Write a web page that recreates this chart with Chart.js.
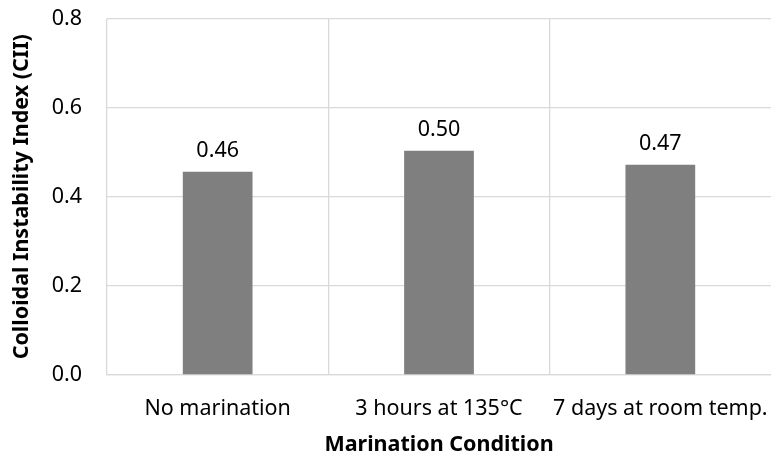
<!DOCTYPE html>
<html>
<head>
<meta charset="utf-8">
<script src="https://cdn.jsdelivr.net/npm/chart.js@4.4.1/dist/chart.umd.min.js"></script>
<style>
  html, body { margin: 0; padding: 0; background: #fff; }
  #wrap { width: 771px; height: 455px; }
</style>
</head>
<body>
<div id="wrap"><canvas id="grafico" width="771" height="455"></canvas></div>
<script>
// dati
const condizioni = ["No marination", "3 hours at 135°C", "7 days at room temp."];
const valoriCII = [0.456, 0.503, 0.472];
const tickY = [0, 0.2, 0.4, 0.6, 0.8];

const fontBase = "'Noto Sans', 'Open Sans', sans-serif";
const grandezza = 21.5;

// etichette sopra le barre
const etichetteBarre = {
    id: "etichetteBarre",
    afterDatasetsDraw(chart) {
        const ctx = chart.ctx;
        const meta = chart.getDatasetMeta(0);
        ctx.save();
        ctx.font = grandezza + "px " + fontBase;
        ctx.fillStyle = "#000";
        ctx.textAlign = "center";
        ctx.textBaseline = "alphabetic";
        meta.data.forEach((bar, i) => {
            ctx.fillText(valoriCII[i].toFixed(2), bar.x, bar.y - 15);
        });
        ctx.restore();
    }
};

const ctx = document.getElementById("grafico").getContext("2d");
new Chart(ctx, {
    type: "bar",
    data: {
        labels: condizioni,
        datasets: [{
            data: valoriCII,
            backgroundColor: "#7f7f7f",
            borderWidth: 0,
            barPercentage: 0.315,
            categoryPercentage: 1
        }]
    },
    options: {
        responsive: false,
        animation: false,
        layout: { padding: { top: 18.5, right: -2, left: 0, bottom: 0 } },
        plugins: {
            legend: { display: false },
            tooltip: { enabled: false }
        },
        scales: {
            x: {
                grid: {
                    // l'ultima linea a destra non si vede nell'originale
                    color: (c) => c.tick === undefined ? "rgba(0,0,0,0)" : "#d9d9d9",
                    lineWidth: 1.3,
                    drawTicks: false,
                    offset: true
                },
                border: { color: "#d9d9d9", width: 1.3 },
                ticks: {
                    color: "#000",
                    font: { size: grandezza, family: fontBase },
                    padding: 21,
                    maxRotation: 0,
                    autoSkip: false
                },
                title: {
                    display: true,
                    text: "Marination Condition",
                    color: "#000",
                    font: { size: grandezza, weight: "bold", family: fontBase },
                    padding: { top: -3, bottom: -3 }
                },
                afterFit: (scale) => {
                    scale.paddingRight = 0;
                    scale.paddingLeft = 0;
                    scale.height = 80;
                }
            },
            y: {
                min: 0,
                max: 0.8,
                afterBuildTicks: (scale) => { scale.ticks = tickY.map(v => ({ value: v })); },
                grid: { color: "#d9d9d9", lineWidth: 1.3, drawTicks: false },
                border: { display: false },
                ticks: {
                    color: "#000",
                    font: { size: grandezza, family: fontBase },
                    padding: 25,
                    callback: (v) => Number(v).toFixed(1)
                },
                title: {
                    display: true,
                    text: "Colloidal Instability Index (CII)",
                    color: "#000",
                    font: { size: grandezza, weight: "bold", family: fontBase },
                    padding: { top: 9, bottom: 0 }
                },
                afterFit: (scale) => {
                    scale.paddingTop = 0;
                    scale.paddingBottom = 0;
                    scale.width = 107;
                }
            }
        }
    },
    plugins: [etichetteBarre]
});
</script>
</body>
</html>
